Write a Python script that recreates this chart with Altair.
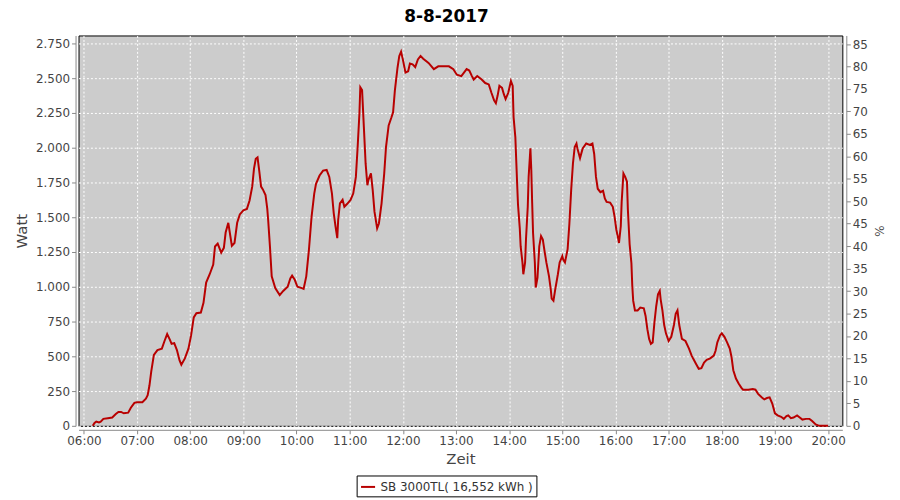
import altair as alt
import pandas as pd

TITLE = "8-8-2017"
SERIES = "SB 3000TL( 16,552 kWh )"

times = [
    "06:10", "06:12", "06:14", "06:17", "06:19", "06:22", "06:27", "06:32", "06:36", "06:39",
    "06:42", "06:45", "06:50", "06:53", "06:57", "07:00", "07:06", "07:10", "07:12", "07:14",
    "07:16", "07:19", "07:23", "07:28", "07:31", "07:34", "07:37", "07:39", "07:42", "07:45",
    "07:48", "07:50", "07:54", "07:58", "08:01", "08:04", "08:07", "08:12", "08:15", "08:18",
    "08:22", "08:26", "08:28", "08:31", "08:35", "08:38", "08:40", "08:43", "08:47", "08:50",
    "08:53", "08:56", "09:00", "09:04", "09:07", "09:10", "09:12", "09:14", "09:16", "09:18",
    "09:20", "09:22", "09:25", "09:27", "09:28", "09:30", "09:32", "09:36", "09:41", "09:45",
    "09:50", "09:53", "09:55", "09:58", "10:01", "10:06", "10:08", "10:11", "10:14", "10:17",
    "10:20", "10:22", "10:26", "10:30", "10:34", "10:37", "10:40", "10:42", "10:44", "10:46",
    "10:47", "10:49", "10:52", "10:54", "10:57", "11:01", "11:04", "11:07", "11:09", "11:11",
    "11:12", "11:14", "11:16", "11:18", "11:20", "11:21", "11:24", "11:26", "11:28", "11:31",
    "11:33", "11:36", "11:39", "11:41", "11:44", "11:47", "11:49", "11:51", "11:54", "11:56",
    "11:58", "12:00", "12:03", "12:06", "12:08", "12:11", "12:14", "12:17", "12:20", "12:23",
    "12:29", "12:35", "12:40", "12:46", "12:52", "12:57", "13:01", "13:06", "13:09", "13:12",
    "13:15", "13:18", "13:20", "13:24", "13:29", "13:33", "13:37", "13:40", "13:43", "13:45",
    "13:47", "13:49", "13:52", "13:54", "13:56", "13:59", "14:02", "14:04", "14:05", "14:07",
    "14:08", "14:09", "14:10", "14:12", "14:13", "14:15", "14:16", "14:18", "14:19", "14:21",
    "14:22", "14:24", "14:25", "14:26", "14:27", "14:29", "14:30", "14:32", "14:34", "14:36",
    "14:38", "14:40", "14:42", "14:45", "14:47", "14:48", "14:50", "14:52", "14:55", "14:57",
    "15:00", "15:01", "15:03", "15:06", "15:08", "15:10", "15:12", "15:14", "15:16", "15:17",
    "15:20", "15:23", "15:27", "15:31", "15:34", "15:36", "15:38", "15:40", "15:43", "15:46",
    "15:48", "15:50", "15:54", "15:57", "15:59", "16:01", "16:03", "16:04", "16:06", "16:07",
    "16:09", "16:11", "16:13", "16:14", "16:16", "16:18", "16:19", "16:20", "16:22", "16:25",
    "16:28", "16:32", "16:34", "16:36", "16:38", "16:40", "16:42", "16:44", "16:46", "16:48",
    "16:50", "16:51", "16:53", "16:55", "16:57", "17:00", "17:03", "17:06", "17:08", "17:10",
    "17:12", "17:15", "17:19", "17:23", "17:26", "17:28", "17:31", "17:34", "17:37", "17:40",
    "17:43", "17:47", "17:51", "17:53", "17:55", "17:58", "18:00", "18:03", "18:06", "18:09",
    "18:11", "18:13", "18:16", "18:19", "18:22", "18:24", "18:30", "18:35", "18:38", "18:41",
    "18:45", "18:48", "18:51", "18:54", "18:57", "19:00", "19:03", "19:07", "19:10", "19:13",
    "19:15", "19:18", "19:21", "19:25", "19:28", "19:31", "19:35", "19:39", "19:42", "19:46",
    "19:50", "20:00",
]

watts = [
    0, 20, 30, 25, 30, 50, 55, 60, 85, 100,
    100, 90, 95, 130, 165, 170, 170, 195, 220, 290,
    390, 510, 545, 555, 610, 660, 620, 590, 595, 545,
    470, 440, 485, 555, 650, 780, 810, 815, 885, 1030,
    1090, 1160, 1290, 1310, 1245, 1280, 1390, 1460, 1295, 1315,
    1460, 1520, 1550, 1560, 1620, 1720, 1850, 1920, 1930, 1830,
    1720, 1700, 1660, 1560, 1480, 1290, 1075, 990, 940, 970,
    1000, 1060, 1080, 1050, 1000, 990, 985, 1075, 1265, 1505,
    1670, 1740, 1800, 1835, 1840, 1790, 1670, 1530, 1435, 1350,
    1480, 1600, 1625, 1575, 1595, 1625, 1670, 1790, 2005, 2245,
    2435, 2415, 2150, 1885, 1730, 1765, 1815, 1695, 1540, 1420,
    1455, 1600, 1815, 2005, 2160, 2215, 2255, 2410, 2575, 2660,
    2690, 2635, 2540, 2550, 2605, 2600, 2580, 2635, 2660, 2640,
    2610, 2565, 2585, 2585, 2585, 2565, 2525, 2515, 2540, 2565,
    2555, 2515, 2490, 2515, 2490, 2465, 2455, 2395, 2340, 2320,
    2375, 2445, 2430, 2385, 2350, 2395, 2480, 2445, 2220, 2075,
    1910, 1745, 1590, 1420, 1290, 1175, 1090, 1175, 1340, 1575,
    1790, 1995, 1840, 1600, 1385, 1175, 995, 1065, 1290, 1365,
    1340, 1255, 1175, 1075, 980, 915, 900, 980, 1090, 1175,
    1220, 1195, 1175, 1270, 1455, 1695, 1885, 2005, 2030, 1995,
    1925, 1995, 2030, 2020, 2030, 1955, 1790, 1705, 1680, 1690,
    1635, 1610, 1605, 1575, 1505, 1410, 1350, 1315, 1435, 1610,
    1815, 1790, 1755, 1555, 1305, 1170, 1005, 900, 830, 830,
    850, 845, 790, 695, 625, 590, 600, 745, 860, 945,
    970, 910, 830, 725, 665, 610, 640, 725, 805, 830,
    725, 625, 610, 555, 505, 480, 445, 410, 415, 455,
    475, 485, 505, 540, 600, 650, 665, 640, 600, 555,
    495, 400, 340, 305, 275, 260, 260, 265, 260, 230,
    205, 190, 200, 205, 160, 90, 75, 65, 50, 70,
    75, 55, 60, 75, 60, 45, 50, 50, 35, 10,
    0, 0,
]

hour_ticks = list(range(6, 21))
watt_ticks = list(range(0, 2751, 250))
pct_ticks = list(range(0, 86, 5))

WATT_PER_PCT = 32.3
X_DOMAIN = [5.899, 20.268]
W_DOMAIN = [0, 2807]
P_DOMAIN = [0, 2807 / WATT_PER_PCT]


def to_hours(t):
    h, m = t.split(":")
    return int(h) + int(m) / 60.0


df = pd.DataFrame({"time": times, "watt": watts})
df["hour"] = df["time"].map(to_hours)
df["pct"] = df["watt"] / WATT_PER_PCT
df["series"] = SERIES

FONT = "DejaVu Sans"
LABEL = "#444444"
AXISC = "#888888"

x_enc = alt.X(
    "hour:Q",
    scale=alt.Scale(domain=X_DOMAIN, nice=False, zero=False),
    axis=alt.Axis(
        values=hour_ticks,
        labelExpr="(datum.value < 10 ? '0' : '') + datum.value + ':00'",
        title="Zeit",
        offset=4,
        tickSize=4,
        labelPadding=2,
        titlePadding=5,
        grid=True,
    ),
)

line = alt.Chart(df).mark_line(strokeWidth=2, interpolate="linear").encode(
    x=x_enc,
    y=alt.Y(
        "watt:Q",
        scale=alt.Scale(domain=W_DOMAIN, nice=False),
        axis=alt.Axis(
            values=watt_ticks,
            labelExpr="replace(format(datum.value, ','), ',', '.')",
            title="Watt",
            offset=3,
            tickSize=4,
            labelPadding=2,
            titlePadding=6,
            grid=True,
        ),
    ),
    color=alt.Color(
        "series:N",
        scale=alt.Scale(range=["#b80000"]),
        legend=alt.Legend(
            title=None,
            orient="none",
            legendX=280,
            legendY=443,
            symbolType="stroke",
            symbolStrokeWidth=2,
            symbolSize=200,
            labelFontSize=12,
            labelFont=FONT,
            labelColor="#333333",
            strokeColor="black",
            fillColor="white",
            padding=3,
            cornerRadius=0,
        ),
    ),
)

pct_layer = alt.Chart(df).mark_line(opacity=0).encode(
    x=alt.X("hour:Q", scale=alt.Scale(domain=X_DOMAIN, nice=False, zero=False)),
    y=alt.Y(
        "pct:Q",
        scale=alt.Scale(domain=P_DOMAIN, nice=False),
        axis=alt.Axis(
            orient="right",
            values=pct_ticks,
            title="%",
            titleFontSize=12,
            offset=4,
            tickSize=4,
            labelPadding=2,
            titlePadding=4,
            grid=False,
        ),
    ),
)

chart = (
    alt.layer(line, pct_layer)
    .resolve_scale(y="independent")
    .properties(
        width=769,
        height=393,
        autosize=alt.AutoSizeParams(type="none"),
        padding={"left": 71, "top": 26, "right": 50, "bottom": 72},
        title=alt.TitleParams(
            TITLE,
            anchor="middle",
            dx=-14,
            offset=10,
            fontSize=17,
            fontWeight="bold",
            font=FONT,
            color="black",
        ),
    )
    .configure_view(fill="#cccccc", stroke="black", strokeWidth=1)
    .configure_axis(
        labelFont=FONT,
        labelFontSize=12,
        labelColor=LABEL,
        titleFont=FONT,
        titleFontSize=15,
        titleFontWeight="normal",
        titleColor=LABEL,
        domainColor=AXISC,
        tickColor=AXISC,
        gridColor="white",
        gridDash=[2, 2],
        gridOpacity=1,
        gridWidth=1,
    )
)

chart.save("out.html", embed_options={"renderer": "svg", "actions": False})
